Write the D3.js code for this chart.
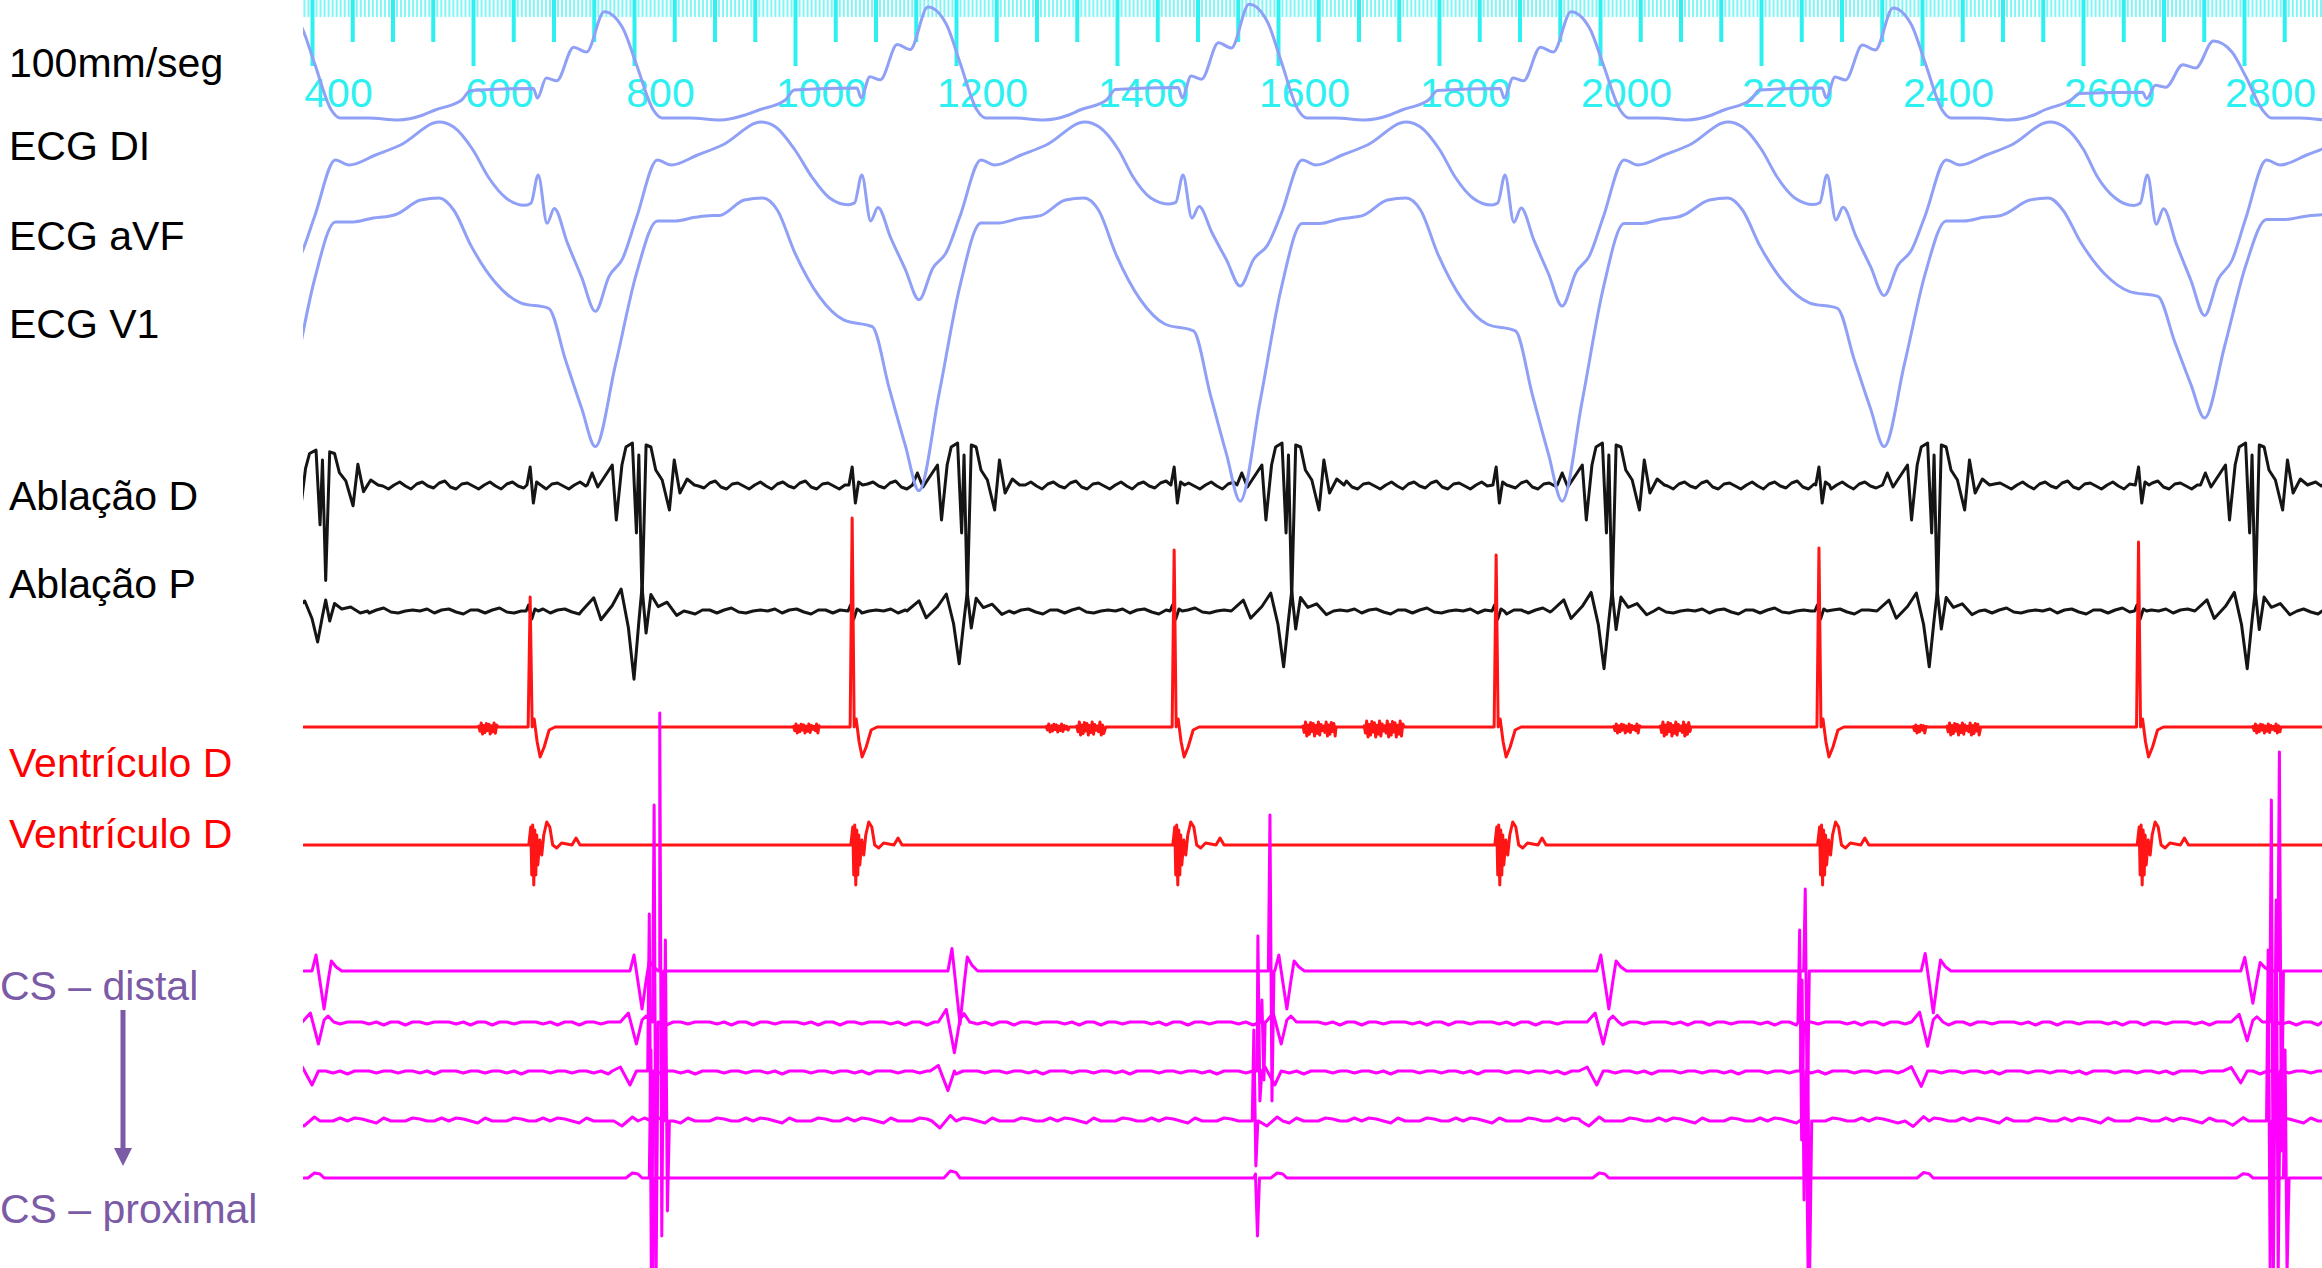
<!DOCTYPE html>
<html><head><meta charset="utf-8">
<script src="https://cdn.jsdelivr.net/npm/d3@7"></script>
<style>html,body{margin:0;padding:0;background:#fff;overflow:hidden}
text{font-family:"Liberation Sans",Arial,Helvetica,sans-serif}</style>
</head><body>
<svg id="c" width="2322" height="1268"></svg>
<script>
// ================= DATA (time in ms, amplitudes in display units) =================
const T0 = 390, T1 = 2897;
const rulerLabelValues = [400, 600, 800, 1000, 1200, 1400, 1600, 1800, 2000, 2200, 2400, 2600, 2800];

// surface ECG: beat reference time (V1 nadir) and per-beat scaling
const ecgBeatTimes  = [352, 752, 1154, 1553, 1953, 2353, 2751];
const diPeakScale   = [1.00, 0.96, 1.01, 1.04, 0.96, 1.00, 0.64];
const avfDepthScale = [1.00, 1.06, 0.95, 0.82, 1.01, 0.91, 1.10];
const v1DepthScale  = [1.00, 0.91, 1.08, 1.12, 1.12, 0.91, 0.80];
const diBeat  = [[-199,-10],[-166,0],[-155,10],[-77,12],[-72,2],[-61,23],[-48,20],[-27,55],[-11,50],[11,92],[34,75],[51,37],[72,-10],[83,-18],[118,-18],[155,-20],[186,-15]];
const avfBeat = [[-133,23],[-111,2],[-88,-5],[-80,-3],[-71,25],[-60,-22],[-51,-8],[-35,-40],[-17,-73],[0,-105],[17,-72],[34,-55],[51,-17],[77,40],[94,35],[127,45],[158,55],[206,78],[224,73],[248,50]];
const v1Beat  = [[-248,-5],[-217,10],[-194,12],[-176,0],[-154,-40],[-124,-80],[-93,-102],[-58,-108],[-37,-165],[-17,-218],[0,-260],[25,-170],[51,-70],[77,-12],[99,-12],[124,-8],[145,-6]];

// ablation catheter
const ablBarTimes = [417, 810, 1214, 1617, 2015, 2419, 2814];
const ablDScale   = [0.83, 1.0, 1.0, 1.0, 1.0, 1.0, 1.0];
const ablPScale   = [0.5, 1.1, 0.85, 0.9, 0.93, 0.9, 0.93];
const ablDComplex = [[-68,0],[-62,12],[-55,-2],[-37,20],[-32,-35],[-25,20],[-20,38],[-12,42],[-7,-48],[-4,30],[0,-115],[5,40],[11,38],[17,15],[25,5],[34,-25],[40,25],[47,-8],[56,6],[65,0]];
const ablPComplex = [[-75,0],[-60,12],[-51,-8],[-37,5],[-26,20],[-17,-15],[-10,-62],[-4,-10],[0,22],[5,-20],[11,15],[20,4],[31,8],[43,-4],[52,0]];
const ablDPace = [[-4,0],[0,18],[4,-18],[8,3],[13,0]];
const ablPPace = [[-5,0],[-2,6],[2,-8],[6,2],[10,0]];
const ablDRipple = [0,3,-1,-4,1,3,-1,-3,2,4,-2,-4,1,2,-1,-4];
const ablPRipple = [0,2,-2,1,2,-1,-3,1,1,-2,1,3,-1,-2,0,1];

// right ventricle
const vSpikeTimes = [671, 1071, 1471, 1871, 2272, 2669];
const vSpikeAmp   = [130, 209, 177, 172, 179, 185];
const vd1Wave = [[-2.5,0],[0,1],[2.5,0],[5,8],[8.7,-15],[12.4,-30],[17.4,-20],[23.6,-3],[31,0]];
const vd2Wave = [[-1.7,0],[0.8,18],[2,-30],[3.2,20],[4.5,-40],[5.7,15],[7,-30],[8.2,10],[9.5,-20],[12,5],[14.4,-10],[16.9,10],[20.6,23],[24.4,18],[28,0],[33,-3],[39,2],[52,0],[57,7],[62,0]];
const vd1Bursts = [[607,630,4,7],[998,1030,3,6],[1312,1340,3,5],[1350,1385,5,8],[1631,1671,5,9],[1707,1756,6,10],[2017,2050,3,6],[2075,2112,5,9],[2389,2406,2,6],[2431,2472,4,8],[2811,2845,3,6]];
const burstPattern = [0.2,-0.6,1,-1,0.4,-0.8,0.9,-0.5,0.7,-1,0.3,-0.7,1,-0.9,0.5,-0.4];

// coronary sinus (distal -> proximal)
const csActTimes = [415, 810, 1205, 1611, 2011, 2414, 2811];
const csActScale = [1.0, 1.0, 1.4, 1.0, 1.0, 1.1, 0.85];
const cs1Wave = [[-15,0],[-10,16],[0,-38],[5,-10],[9,10],[15,4],[22,0]];
const cs2Wave = [[-27,0],[-17,9],[-7,-22],[0,2],[5,6],[12,0]];
const cs3Wave = [[-37,0],[-27,4],[-15,-14],[-7,0]];
const cs4Wave = [[-35,0],[-25,-5],[-12,4],[-5,0]];
const cs5Wave = [[-20,0],[-12,5],[-5,4],[0,0]];
const cs1Big = [[832,258,265],[1590,156,130],[2255,82,150],[2844,219,180]];
const cs2Big = [[825,217,250],[1580,22,58],[2248,92,118],[2834,222,250]];
const cs3Big = [[819,157,200],[1575,135,30],[2251,91,129],[2840,171,200]];
const cs4Big = [[839,181,90],[1570,91,45],[2258,71,150],[2830,171,150]];
const cs5Big = [[821,128,95],[1572,4,58],[2256,78,95],[2851,128,95]];
const cs2Ripple = [0,0,-3,0,0,-2,0,0,0,-2,0,-3];
const cs3Ripple = [0,-2,0,0,-2,0,-3,0,0,0,-2,0];
const cs4Ripple = [0,3,2,0,0,3,0,3,2,0,-2,3,0,0];

// ================= LAYOUT =================
const W = 2322, H = 1268;
const base = {di:100, avf:200, v1:210, ablD:485, ablP:611, vd1:727, vd2:845, cs:[971,1022,1071,1121,1178]};
const colors = {ecg:'#8FA0F6', black:'#151515', red:'#FF1515', mag:'#FF00FF', cyan:'#2FF0F0', cyanLight:'#80F6F6', purple:'#7B5AA6'};

const svg = d3.select('#c');
const x = d3.scaleLinear().domain([400, 2800]).range([312, 2244]);
svg.append('rect').attr('width', W).attr('height', H).attr('fill', '#fff');
svg.append('defs').append('clipPath').attr('id','clip').append('rect')
  .attr('x', 303).attr('y', 0).attr('width', W - 303).attr('height', H);

// ---------- ruler ----------
const ruler = svg.append('g').attr('clip-path','url(#clip)');
function tickRow(values, size, width, color) {
  const g = ruler.append('g').call(d3.axisBottom(x).tickValues(values).tickSize(size).tickFormat(''));
  g.select('.domain').remove();
  g.selectAll('.tick line').attr('stroke', color).attr('stroke-width', width);
}
const all5 = d3.range(T0, T1 + 1, 5);
tickRow(all5.filter(v => v % 50 !== 0), 17, 2, colors.cyanLight);
tickRow(all5.filter(v => v % 50 === 0 && v % 200 !== 0), 42, 4, colors.cyan);
tickRow(rulerLabelValues, 66, 4, colors.cyan);
const lab = svg.append('g').call(d3.axisBottom(x).tickValues(rulerLabelValues).tickSize(0).tickFormat(d3.format('d')));
lab.select('.domain').remove();
lab.selectAll('text').attr('x', 26).attr('y', 107).attr('dy', 0).attr('text-anchor', 'middle')
  .attr('fill', colors.cyan).attr('font-size', 41).attr('font-family', '"Liberation Sans",Arial,sans-serif');

// ---------- trace builder ----------
function buildSeries(groups, ripple, step, bursts) {
  const pts = [], spans = [];
  groups.forEach(g => {
    g.times.forEach((t, i) => {
      g.wave.forEach(([dt, a]) => pts.push([t + dt, g.amp ? g.amp(a, i, dt) : a]));
      spans.push([t + g.wave[0][0], t + g.wave[g.wave.length - 1][0]]);
    });
  });
  (bursts || []).forEach(([b0, b1, up, down]) => {
    pts.push([b0 - 1, 0]);
    for (let k = 0; b0 + k * 1.6 <= b1; k++) {
      const p = burstPattern[k % burstPattern.length];
      pts.push([b0 + k * 1.6, p > 0 ? p * up : p * down]);
    }
    pts.push([b1 + 1, 0]);
    spans.push([b0 - 1, b1 + 1]);
  });
  const inSpan = t => spans.some(s => t >= s[0] - 1 && t <= s[1] + 1);
  if (ripple) {
    for (let k = 0; T0 + k * step <= T1; k++) {
      const t = T0 + k * step;
      if (!inSpan(t)) pts.push([t, ripple[k % ripple.length]]);
    }
  }
  [T0, T1].forEach(t => { if (!inSpan(t)) pts.push([t, 0]); });
  pts.sort((a, b) => a[0] - b[0]);
  return pts;
}
const plot = svg.append('g').attr('clip-path', 'url(#clip)');
function drawTrace(pts, b, color, width, curve) {
  const y = d3.scaleLinear().domain([0, 100]).range([b, b - 100]);
  plot.append('path').datum(pts)
    .attr('d', d3.line().curve(curve || d3.curveLinear).x(d => x(d[0])).y(d => y(d[1])))
    .attr('fill', 'none').attr('stroke', color).attr('stroke-width', width)
    .attr('stroke-linejoin', 'round').attr('stroke-linecap', 'round');
  return y;
}

// ---------- ablation (black) ----------
drawTrace(buildSeries([
  {times: ablBarTimes, wave: ablDComplex, amp: (a, i) => a * ablDScale[i]},
  {times: vSpikeTimes, wave: ablDPace}
], ablDRipple, 7), base.ablD, colors.black, 3);
drawTrace(buildSeries([
  {times: ablBarTimes, wave: ablPComplex, amp: (a, i) => a * ablPScale[i]},
  {times: vSpikeTimes, wave: ablPPace}
], ablPRipple, 9), base.ablP, colors.black, 3);

// ---------- ECG (blue) ----------
const smooth = d3.curveMonotoneX;
drawTrace(buildSeries([{times: ecgBeatTimes, wave: diBeat, amp: (a, i) => a > 0 ? a * diPeakScale[i] : a}]), base.di, colors.ecg, 3, smooth);
drawTrace(buildSeries([{times: ecgBeatTimes, wave: avfBeat, amp: (a, i) => a < 0 ? a * avfDepthScale[i] : a}]), base.avf, colors.ecg, 3, smooth);
drawTrace(buildSeries([{times: ecgBeatTimes, wave: v1Beat, amp: (a, i) => a < 0 ? a * v1DepthScale[i] : a}]), base.v1, colors.ecg, 3, smooth);

// ---------- ventricle (red) ----------
drawTrace(buildSeries([{times: vSpikeTimes, wave: vd1Wave, amp: (a, i, dt) => dt === 0 ? vSpikeAmp[i] : a}], null, 0, vd1Bursts), base.vd1, colors.red, 3);
drawTrace(buildSeries([{times: vSpikeTimes, wave: vd2Wave}]), base.vd2, colors.red, 3);

// ---------- coronary sinus (magenta) ----------
const bigWave = [[-2,0],[0,1],[2.5,-1],[5,0]];
const csDefs = [
  {wave: cs1Wave, big: cs1Big, ripple: null},
  {wave: cs2Wave, big: cs2Big, ripple: cs2Ripple},
  {wave: cs3Wave, big: cs3Big, ripple: cs3Ripple},
  {wave: cs4Wave, big: cs4Big, ripple: cs4Ripple},
  {wave: cs5Wave, big: cs5Big, ripple: null}
];
csDefs.forEach((c, ci) => {
  const pts = buildSeries([
    {times: csActTimes, wave: c.wave, amp: (a, i) => a * csActScale[i]},
    {times: c.big.map(b => b[0]), wave: bigWave, amp: (a, i) => a > 0 ? c.big[i][1] : (a < 0 ? -c.big[i][2] : 0)}
  ], c.ripple, 9);
  drawTrace(pts, base.cs[ci], colors.mag, 3);
});

// ---------- channel labels ----------
const labels = [
  {text: '100mm/seg', x: 9, y: 77, fill: '#000'},
  {text: 'ECG DI', x: 9, y: 160, fill: '#000'},
  {text: 'ECG aVF', x: 9, y: 250, fill: '#000'},
  {text: 'ECG V1', x: 9, y: 338, fill: '#000'},
  {text: 'Ablação D', x: 9, y: 510, fill: '#000'},
  {text: 'Ablação P', x: 9, y: 598, fill: '#000'},
  {text: 'Ventrículo D', x: 9, y: 777, fill: '#FF0000'},
  {text: 'Ventrículo D', x: 9, y: 848, fill: '#FF0000'},
  {text: 'CS – distal', x: 0, y: 1000, fill: colors.purple},
  {text: 'CS – proximal', x: 0, y: 1223, fill: colors.purple}
];
svg.append('g').selectAll('text').data(labels).join('text')
  .attr('x', d => d.x).attr('y', d => d.y).attr('fill', d => d.fill)
  .attr('font-size', 41).text(d => d.text);
const arrow = svg.append('g');
arrow.append('line').attr('x1', 123).attr('x2', 123).attr('y1', 1010).attr('y2', 1152)
  .attr('stroke', colors.purple).attr('stroke-width', 5);
arrow.append('path').attr('d', 'M114,1148 L132,1148 L123,1166 Z').attr('fill', colors.purple);
</script>
</body></html>
